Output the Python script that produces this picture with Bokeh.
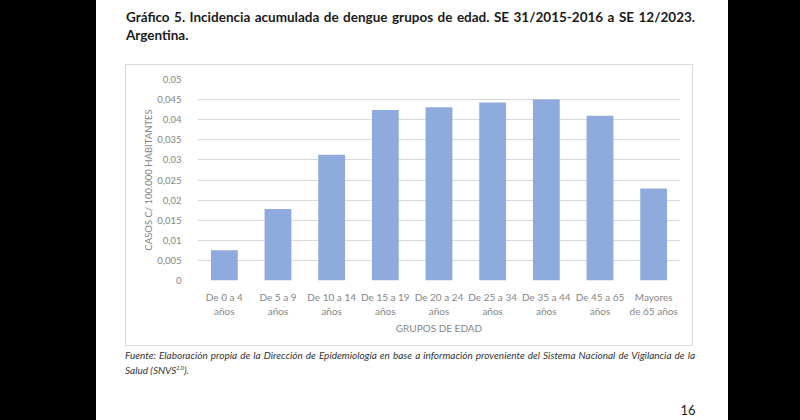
from bokeh.plotting import figure
from bokeh.models import FixedTicker, Div, Row, Column
from bokeh.embed import file_html
from bokeh.resources import INLINE

# ---- data ----
categories = ["De 0 a 4\naños", "De 5 a 9\naños", "De 10 a 14\naños", "De 15 a 19\naños",
              "De 20 a 24\naños", "De 25 a 34\naños", "De 35 a 44\naños", "De 45 a 65\naños",
              "Mayores\nde 65 años"]
incidence = [0.0075, 0.0178, 0.0313, 0.0424, 0.0431, 0.0443, 0.0450, 0.0410, 0.0229]
y_ticks = [0, 0.005, 0.01, 0.015, 0.02, 0.025, 0.03, 0.035, 0.04, 0.045, 0.05]
y_tick_labels = ["0", "0,005", "0,01", "0,015", "0,02", "0,025", "0,03", "0,035", "0,04", "0,045", "0,05"]

title_line1 = "Gráfico 5. Incidencia acumulada de dengue grupos de edad. SE 31/2015-2016 a SE 12/2023."
title_line2 = "Argentina."
foot_line1 = ("Fuente: Elaboración propia de la Dirección de Epidemiología en base a información "
              "proveniente del Sistema Nacional de Vigilancia de la")
foot_line2 = "Salud (SNVS<sup style='font-size:5.5px'>2.0</sup>)."
page_number = "16"

FONT = "Lato"
GREY = "#868686"

# ---- chart (inside a bordered box) ----
p = figure(width=568, height=282, x_range=categories, y_range=(0, 0.05),
           output_backend="svg", toolbar_location=None,
           min_border_left=71, min_border_right=14, min_border_top=14, min_border_bottom=67,
           border_fill_color="white", background_fill_color="white",
           margin=(0, 0, 0, 29),
           styles={"border": "1px solid #d9d9d9"})
p.outline_line_color = None

p.vbar(x=categories, top=incidence, width=0.5, fill_color="#8FAADC", line_color=None)

p.yaxis.ticker = FixedTicker(ticks=y_ticks)
p.yaxis.major_label_overrides = dict(zip(y_ticks, y_tick_labels))
for ax in (p.xaxis[0], p.yaxis[0]):
    ax.axis_line_color = None
    ax.major_tick_line_color = None
    ax.minor_tick_line_color = None
    ax.major_label_text_color = GREY
    ax.major_label_text_font = FONT
    ax.axis_label_text_color = GREY
    ax.axis_label_text_font = FONT
    ax.axis_label_text_font_style = "normal"
p.yaxis.major_label_text_font_size = "9.5px"
p.xaxis.major_label_text_font_size = "10px"
p.yaxis.major_label_standoff = 10
p.yaxis.axis_label = "CASOS C/ 100.000 HABITANTES"
p.yaxis.axis_label_text_font_size = "9.5px"
p.yaxis.axis_label_standoff = 0
p.xaxis.major_label_standoff = 4
p.xaxis.axis_label = "GRUPOS DE EDAD"
p.xaxis.axis_label_text_font_size = "10px"
p.xaxis.axis_label_standoff = 2

p.xgrid.grid_line_color = None
p.ygrid.grid_line_color = "#d9d9d9"
p.ygrid.grid_line_width = 1

# ---- page texts ----
title_html = (
    f"<div style='margin-left:30px;padding-top:8px;width:569px;font-family:Lato;font-weight:bold;"
    f"font-size:13.5px;line-height:18px;color:#1a1a1a'>"
    f"<div style='white-space:nowrap;text-align:justify;text-align-last:justify'>{title_line1}</div>"
    f"<div>{title_line2}</div></div>")
foot_html = (
    f"<div style='margin-left:29px;padding-top:3px;width:570px;font-family:Lato;font-style:italic;"
    f"font-size:10px;line-height:13px;color:#333333'>"
    f"<div style='white-space:nowrap;text-align:justify;text-align-last:justify'>{foot_line1}</div>"
    f"<div>{foot_line2}</div></div>")
page_html = (
    f"<div style='margin-left:578px;padding-top:28px;width:28px;text-align:center;font-family:Lato;"
    f"font-size:13px;line-height:16px;color:#222222'>{page_number}</div>")

title_div = Div(text=title_html, width=632, height=64, margin=0)
foot_div = Div(text=foot_html, width=632, height=28, margin=0)
page_div = Div(text=page_html, width=632, height=44, margin=0)

page = Column(children=[title_div, p, foot_div, page_div], width=632, height=420, spacing=0,
              margin=0, styles={"background-color": "white"})
left_black = Div(text="", width=96, height=420, margin=0, styles={"background-color": "black"})
right_black = Div(text="", width=72, height=420, margin=0, styles={"background-color": "black"})
layout = Row(children=[left_black, page, right_black], spacing=0, margin=0)

open("out.html", "w").write(file_html(layout, INLINE))
